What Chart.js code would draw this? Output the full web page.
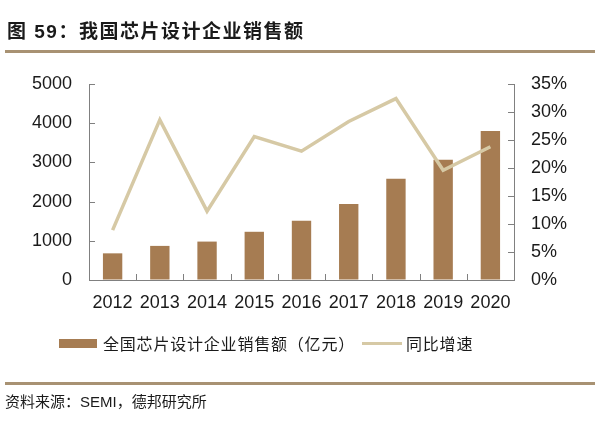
<!DOCTYPE html>
<html lang="zh">
<head>
<meta charset="UTF-8">
<title>我国芯片设计企业销售额</title>
<style>
  * { margin: 0; padding: 0; box-sizing: border-box; }
  body { width: 600px; height: 428px; background: #fff; position: relative; overflow: hidden;
         font-family: 'Liberation Sans', 'Noto Sans CJK SC', sans-serif; color: #1a1a1a; }
  .wrap { position: absolute; left: 0; top: 0; width: 600px; height: 428px; }
  .title { position: absolute; left: 7px; top: 20px; font-size: 19px; font-weight: bold; line-height: 24px;
           letter-spacing: 1.5px; }
  .rule { position: absolute; left: 5px; right: 5px; height: 3px; background: #a89273; }
  .legend { position: absolute; top: 332px; height: 22px; font-size: 16px; line-height: 22px;
            letter-spacing: 0.8px; font-family: 'Noto Sans CJK SC', sans-serif; }
  .sw-bar { position: absolute; left: 59px; top: 339px; width: 38px; height: 9px; background: #a67c52; }
  .sw-line { position: absolute; left: 362px; top: 342px; width: 40px; height: 3px; background: #d6c9a5; }
  .source { position: absolute; left: 5px; top: 392px; font-size: 15px; line-height: 20px;
            font-family: 'Liberation Sans', 'Noto Sans CJK SC', sans-serif; }
</style>
<script src="https://cdn.jsdelivr.net/npm/chart.js@4"></script>
</head>
<body>
<div class="wrap"><canvas id="c"></canvas></div>
<div class="title">图 59：我国芯片设计企业销售额</div>
<div class="rule" style="top:50px"></div>
<div class="sw-bar"></div>
<div class="legend" style="left:103px">全国芯片设计企业销售额（亿元）</div>
<div class="sw-line"></div>
<div class="legend" style="left:406px">同比增速</div>
<div class="rule" style="top:382px"></div>
<div class="source">资料来源：SEMI，德邦研究所</div>
<script>
const years = ['2012', '2013', '2014', '2015', '2016', '2017', '2018', '2019', '2020'];
const sales = [680, 870, 980, 1230, 1510, 1940, 2580, 3070, 3800];   // 亿元
const growth = [8.9, 28.6, 12.3, 25.6, 23.0, 28.3, 32.4, 19.6, 23.8]; // %
const salesTicks = [0, 1000, 2000, 3000, 4000, 5000];
const growthTicks = [0, 5, 10, 15, 20, 25, 30, 35];

// small ticks pointing into the plot, like the original
const innerTicks = {
  id: 'innerTicks',
  afterDraw(chart) {
    const ctx = chart.ctx, s = chart.scales;
    ctx.save();
    ctx.strokeStyle = '#808080';
    ctx.lineWidth = 1;
    ctx.beginPath();
    salesTicks.forEach(v => {
      const y = Math.round(s.y.getPixelForValue(v)) + 0.5;
      ctx.moveTo(s.y.right, y); ctx.lineTo(s.y.right + 6, y);
    });
    growthTicks.forEach(v => {
      const y = Math.round(s.y1.getPixelForValue(v)) + 0.5;
      ctx.moveTo(s.y1.left - 6, y); ctx.lineTo(s.y1.left, y);
    });
    for (let i = 0; i < years.length - 1; i++) {
      const x = Math.round((s.x.getPixelForValue(i) + s.x.getPixelForValue(i + 1)) / 2) + 0.5;
      ctx.moveTo(x, s.x.top); ctx.lineTo(x, s.x.top - 6);
    }
    ctx.stroke();
    ctx.restore();
  }
};

Chart.defaults.font.family = "'Liberation Sans', sans-serif";
Chart.defaults.font.size = 18;
Chart.defaults.color = '#1a1a1a';

new Chart(document.getElementById('c'), {
  data: {
    labels: years,
    datasets: [
      { type: 'line', label: '同比增速', data: growth, yAxisID: 'y1', order: 0,
        borderColor: '#d6c9a5', borderWidth: 3.5, pointRadius: 0, tension: 0 },
      { type: 'bar', label: '全国芯片设计企业销售额（亿元）', data: sales, yAxisID: 'y', order: 1,
        backgroundColor: '#a67c52', barPercentage: 0.41, categoryPercentage: 1 }
    ]
  },
  options: {
    responsive: true,
    maintainAspectRatio: false,
    animation: false,
    layout: { padding: { top: 84, left: 0, right: 0, bottom: 0 } },
    plugins: { legend: { display: false }, tooltip: { enabled: false } },
    scales: {
      x: {
        offset: true,
        grid: { display: true, drawOnChartArea: false, drawTicks: false },
        border: { display: true, color: '#808080', width: 1 },
        ticks: { padding: 12, maxRotation: 0, autoSkip: false },
        afterFit(s) { s.height = 148; }
      },
      y: {
        position: 'left', min: 0, max: 5000,
        grid: { display: true, drawOnChartArea: false, drawTicks: false },
        border: { display: true, color: '#808080', width: 1 },
        ticks: { stepSize: 1000, padding: 17, callback: v => String(v) },
        afterFit(s) { s.width = 89; }
      },
      y1: {
        position: 'right', min: 0, max: 35,
        grid: { display: true, drawOnChartArea: false, drawTicks: false },
        border: { display: true, color: '#808080', width: 1 },
        ticks: { stepSize: 5, padding: 17, callback: v => v + '%' },
        afterFit(s) { s.width = 86; }
      }
    }
  },
  plugins: [innerTicks]
});
</script>
</body>
</html>
